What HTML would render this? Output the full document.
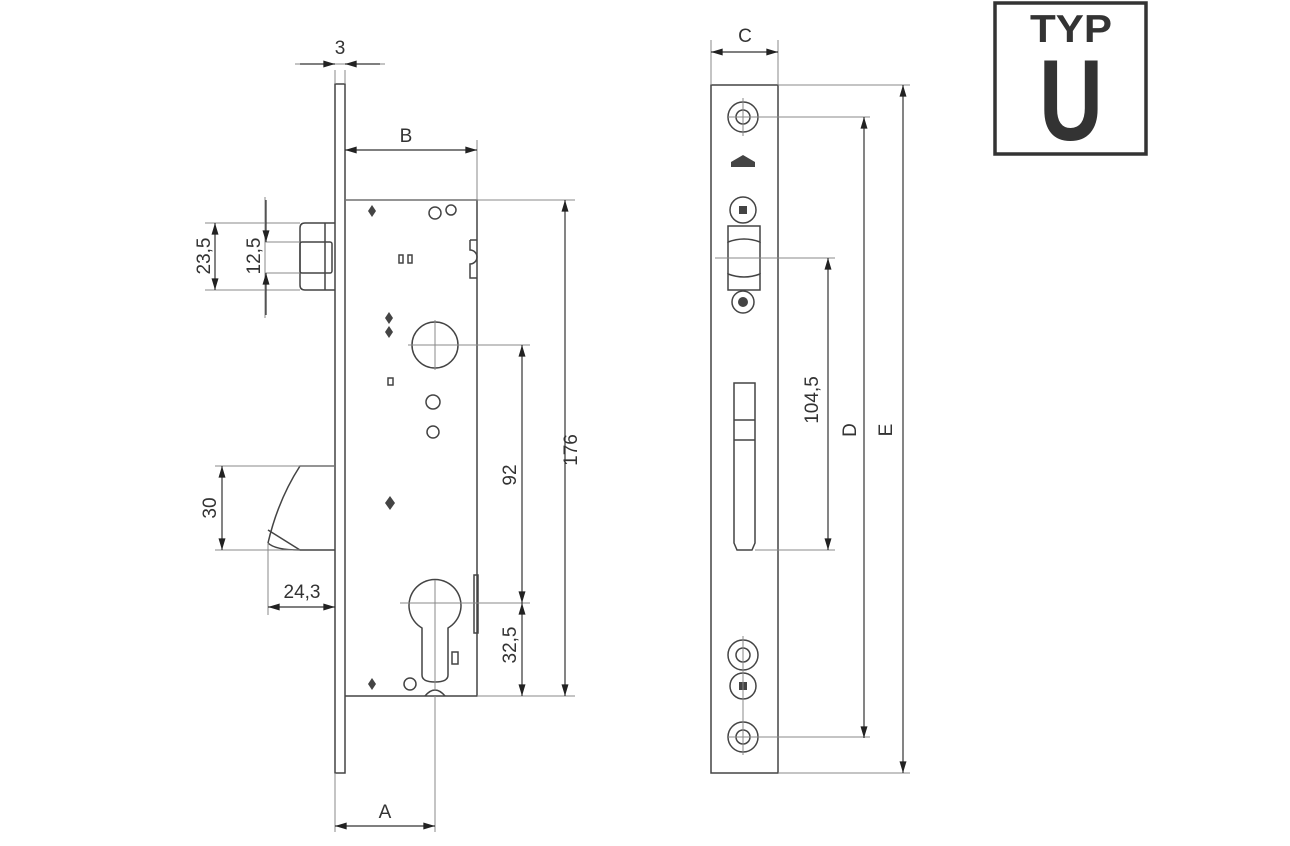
<!DOCTYPE html>
<html><head><meta charset="utf-8"><style>html,body{margin:0;padding:0;background:#fff}svg{display:block}</style></head>
<body>
<svg width="1290" height="846" viewBox="0 0 1290 846" xmlns="http://www.w3.org/2000/svg" font-family="Liberation Sans, sans-serif">
<defs>
<marker id="a" viewBox="0 0 10 6" refX="10" refY="3" markerWidth="18" markerHeight="7" markerUnits="userSpaceOnUse" orient="auto-start-reverse"><path d="M0,0L10,3L0,6z" fill="#222"/></marker>
</defs>
<g stroke="#444" stroke-width="1.5" fill="none">
<rect x="335" y="84" width="10" height="689"/>
<path d="M345,200H477V696H345"/>
<path d="M470,240v10a6,6 0 0,1 0,14v14h7"/><path d="M470,240h7"/>
<path d="M335,223H305Q300,223 300,228V285Q300,290 305,290H335"/>
<rect x="300" y="242" width="32" height="31" rx="2"/>
<path d="M325,223V290"/>
<path d="M335,466H300Q278,500 268,543"/><path d="M268,530L300,550H335"/><path d="M268,543Q275,550 300,550"/>
<circle cx="435" cy="345" r="23"/>
<path d="M422,628A26,26 0 1,1 448,628V675Q448,682 435,682Q422,682 422,675Z"/>
<rect x="452" y="652" width="6" height="12"/>
<rect x="474" y="575" width="4" height="58"/>
<path d="M425,696q10,-12 20,0"/>
<circle cx="435" cy="213" r="6"/><circle cx="451" cy="210" r="5"/>
<circle cx="433" cy="402" r="7"/><circle cx="433" cy="432" r="6"/>
<circle cx="410" cy="684" r="6"/>
<rect x="399" y="255" width="4" height="8"/><rect x="408" y="255" width="4" height="8"/>
<rect x="388" y="378" width="5" height="7"/>
</g>
<g fill="#444">
<path d="M372,205l4,6-4,6-4-6z"/><path d="M389,312l4,6-4,6-4-6z"/><path d="M389,326l4,6-4,6-4-6z"/>
<path d="M390,496l5,7-5,7-5-7z"/><path d="M372,678l4,6-4,6-4-6z"/>
</g>
<g stroke="#888" stroke-width="1" fill="none">
<path d="M295,64H385M335,70V84M345,70V84"/>
<path d="M477,140V200M345,200H575"/>
<path d="M205,223H300M205,290H300M265,197V318M265,242H300M265,273H300"/>
<path d="M215,466H335M215,550H300"/>
<path d="M268,543V615"/>
<path d="M435,320V370M408,345H530"/>
<path d="M435,580V690M400,603H530M435,696V832M335,773V832"/>
<path d="M477,696H575"/>
</g>
<g stroke="#333" stroke-width="1.2" fill="none">
<path d="M300,64H335" marker-end="url(#a)"/><path d="M380,64H345" marker-end="url(#a)"/>
<path d="M345,150H477" marker-start="url(#a)" marker-end="url(#a)"/>
<path d="M215,223V290" marker-start="url(#a)" marker-end="url(#a)"/>
<path d="M266,200V242" marker-end="url(#a)"/><path d="M266,315V273" marker-end="url(#a)"/>
<path d="M222,466V550" marker-start="url(#a)" marker-end="url(#a)"/>
<path d="M268,607H335" marker-start="url(#a)" marker-end="url(#a)"/>
<path d="M565,200V696" marker-start="url(#a)" marker-end="url(#a)"/>
<path d="M522,345V603" marker-start="url(#a)" marker-end="url(#a)"/>
<path d="M522,603V696" marker-start="url(#a)" marker-end="url(#a)"/>
<path d="M335,826H435" marker-start="url(#a)" marker-end="url(#a)"/>
</g>
<g fill="#333" font-size="19">
<text x="340" y="54" text-anchor="middle">3</text>
<text x="406" y="142" text-anchor="middle">B</text>
<text x="302" y="598" text-anchor="middle">24,3</text>
<text x="385" y="818" text-anchor="middle">A</text>
<text transform="translate(210,256) rotate(-90)" text-anchor="middle">23,5</text>
<text transform="translate(260,256) rotate(-90)" text-anchor="middle">12,5</text>
<text transform="translate(216,508) rotate(-90)" text-anchor="middle">30</text>
<text transform="translate(516,475) rotate(-90)" text-anchor="middle">92</text>
<text transform="translate(516,645) rotate(-90)" text-anchor="middle">32,5</text>
<text transform="translate(577,450) rotate(-90)" text-anchor="middle">176</text>
<text transform="translate(818,400) rotate(-90)" text-anchor="middle">104,5</text>
<text transform="translate(856,430) rotate(-90)" text-anchor="middle">D</text>
<text transform="translate(892,430) rotate(-90)" text-anchor="middle">E</text>
<text x="745" y="42" text-anchor="middle">C</text>
</g>
<g stroke="#444" stroke-width="1.5" fill="none">
<rect x="711" y="85" width="67" height="688"/>
<path d="M728,226h32v16q-16,-6 -32,0zM728,290h32v-16q-16,6 -32,0z"/>
<path d="M728,242V274M760,242V274"/>
<path d="M734,383h21v160l-3,7h-15l-3,-7z"/><path d="M734,420h21M734,440h21"/>
<circle cx="743" cy="117" r="15"/><circle cx="743" cy="117" r="7"/>
<circle cx="743" cy="210" r="13"/><circle cx="743" cy="302" r="11"/>
<circle cx="743" cy="655" r="15"/><circle cx="743" cy="655" r="7"/>
<circle cx="743" cy="686" r="13"/>
<circle cx="743" cy="737" r="15"/><circle cx="743" cy="737" r="7"/>
</g>
<g fill="#444"><rect x="739" y="206" width="8" height="8"/><rect x="739" y="682" width="8" height="8"/><circle cx="743" cy="302" r="5"/>
<path d="M731,162l12,-7 12,7v5h-24z"/></g>
<g stroke="#888" stroke-width="1" fill="none">
<path d="M711,40V85M778,40V85M778,85H910M728,117H870M715,258H835M755,550H835M728,737H870M778,773H910M743,98V136M743,636V755"/>
</g>
<g stroke="#333" stroke-width="1.2" fill="none">
<path d="M711,52H778" marker-start="url(#a)" marker-end="url(#a)"/>
<path d="M903,85V773" marker-start="url(#a)" marker-end="url(#a)"/>
<path d="M864,117V738" marker-start="url(#a)" marker-end="url(#a)"/>
<path d="M828,258V550" marker-start="url(#a)" marker-end="url(#a)"/>
</g>
<rect x="995" y="3" width="151" height="151" fill="none" stroke="#333" stroke-width="3.5"/>
<text x="1071" y="42" font-size="39" font-weight="bold" fill="#333" text-anchor="middle" textLength="82" lengthAdjust="spacingAndGlyphs">TYP</text>
<text x="1071" y="140" font-size="115" font-weight="bold" fill="#333" text-anchor="middle" textLength="64" lengthAdjust="spacingAndGlyphs">U</text>
</svg>
</body></html>
